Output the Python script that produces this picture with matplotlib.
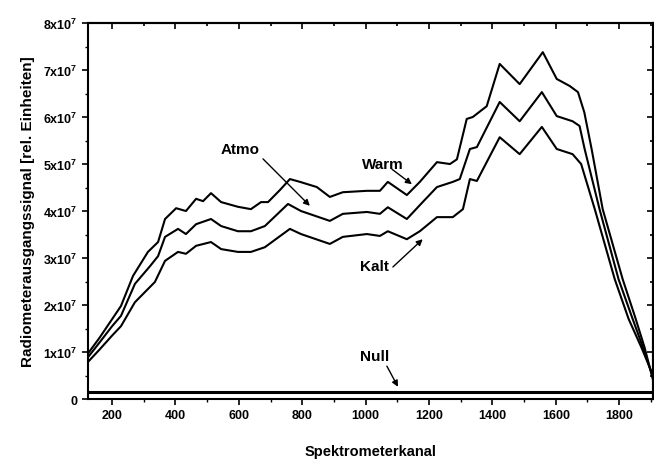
import matplotlib
matplotlib.use("Agg")
import matplotlib.pyplot as plt
from matplotlib.ticker import MultipleLocator, FuncFormatter

plt.rcParams['font.family'] = ['Liberation Sans Narrow', 'Liberation Sans', 'DejaVu Sans']
plt.rcParams['font.weight'] = 'bold'
plt.rcParams['mathtext.default'] = 'regular'

SCALE = 1e7

# Warm curve (values in units of 1e7)
warm_x = [124, 160, 200, 228, 266, 313, 345, 367, 402, 433, 465, 487, 512, 544, 597, 638,
          670, 692, 730, 761, 793, 846, 887, 928, 1004, 1045, 1070, 1130, 1171, 1225, 1266,
          1288, 1319, 1338, 1382, 1423, 1486, 1559, 1603, 1644, 1670, 1690, 1713, 1748,
          1811, 1850, 1880, 1907]
warm_y = [0.97, 1.30, 1.70, 1.98, 2.62, 3.13, 3.34, 3.83, 4.06, 4.00, 4.26, 4.21, 4.38, 4.19,
          4.09, 4.04, 4.19, 4.19, 4.45, 4.68, 4.62, 4.51, 4.30, 4.40, 4.43, 4.43, 4.62, 4.34,
          4.62, 5.04, 5.00, 5.10, 5.96, 6.00, 6.23, 7.13, 6.70, 7.38, 6.81, 6.66, 6.53, 6.10,
          5.32, 4.04, 2.55, 1.75, 1.10, 0.40]

# Atmo curve
atmo_x = [124, 160, 200, 228, 272, 320, 345, 367, 408, 433, 465, 512, 544, 597, 638, 682,
          755, 796, 887, 928, 1004, 1045, 1070, 1130, 1180, 1225, 1275, 1297, 1329, 1351,
          1423, 1486, 1556, 1603, 1653, 1675, 1691, 1738, 1798, 1840, 1875, 1907]
atmo_y = [0.89, 1.20, 1.55, 1.77, 2.45, 2.83, 3.04, 3.45, 3.62, 3.51, 3.72, 3.83, 3.68, 3.57,
          3.57, 3.68, 4.15, 4.00, 3.79, 3.94, 3.98, 3.94, 4.08, 3.83, 4.19, 4.51, 4.62, 4.68,
          5.32, 5.36, 6.32, 5.91, 6.53, 6.02, 5.91, 5.81, 5.32, 4.04, 2.55, 1.75, 1.10, 0.45]

# Kalt curve
kalt_x = [124, 160, 200, 228, 272, 335, 367, 408, 433, 465, 512, 544, 597, 638, 682, 761,
          796, 887, 928, 1004, 1045, 1070, 1130, 1171, 1225, 1275, 1307, 1329, 1351, 1423,
          1486, 1556, 1603, 1653, 1680, 1723, 1786, 1830, 1870, 1907]
kalt_y = [0.79, 1.05, 1.35, 1.55, 2.06, 2.49, 2.94, 3.13, 3.09, 3.26, 3.34, 3.19, 3.13, 3.13,
          3.23, 3.62, 3.51, 3.30, 3.45, 3.51, 3.47, 3.57, 3.40, 3.57, 3.87, 3.87, 4.04, 4.68,
          4.64, 5.57, 5.21, 5.79, 5.32, 5.21, 5.00, 4.04, 2.55, 1.70, 1.10, 0.50]

# Null line
null_x = [124, 1907]
null_y = [0.15, 0.15]

# labels: (text, text position, arrow tail, arrow head)
labels = [
    ("Atmo", (604, 5.32), (676, 5.11), (824, 4.11)),
    ("Warm", (1054, 5.00), (1083, 4.89), (1146, 4.57)),
    ("Kalt", (1029, 2.83), (1086, 2.81), (1180, 3.40)),
    ("Null", (1029, 0.91), (1067, 0.70), (1102, 0.26)),
]

fig = plt.figure(figsize=(6.54, 4.64), dpi=100)
ax = fig.add_axes([0.1346, 0.1379, 0.864, 0.8103])

for xs, ys in [(warm_x, warm_y), (atmo_x, atmo_y), (kalt_x, kalt_y)]:
    ax.plot(xs, [v * SCALE for v in ys], color='k', lw=1.5)
ax.plot(null_x, [v * SCALE for v in null_y], color='k', lw=2.2)

for txt, tpos, tail, head in labels:
    ax.text(tpos[0], tpos[1] * SCALE, txt, ha='center', va='center', fontsize=11,
            fontweight='bold')
    ax.annotate('', xy=(head[0], head[1] * SCALE), xytext=(tail[0], tail[1] * SCALE),
                arrowprops=dict(arrowstyle='-|>', color='k', lw=1.0, mutation_scale=9,
                                shrinkA=0, shrinkB=0))

ax.set_xlim(124, 1907)
ax.set_ylim(0, 8e7)

ax.xaxis.set_major_locator(MultipleLocator(200))
ax.xaxis.set_minor_locator(MultipleLocator(100))
ax.yaxis.set_major_locator(MultipleLocator(1e7))
ax.yaxis.set_minor_locator(MultipleLocator(0.5e7))


def ylab(v, pos):
    n = int(round(v / SCALE))
    return "0" if n == 0 else f"{n}x10$^7$"


ax.yaxis.set_major_formatter(FuncFormatter(ylab))
ax.tick_params(which='major', direction='out', length=4, width=1.2, labelsize=9)
ax.tick_params(which='minor', direction='out', length=2, width=1)
for lab in ax.get_xticklabels() + ax.get_yticklabels():
    lab.set_fontweight('bold')

top = ax.secondary_xaxis('top')
top.xaxis.set_major_locator(MultipleLocator(200))
top.xaxis.set_minor_locator(MultipleLocator(100))
top.tick_params(which='both', direction='in', labeltop=False, width=1.2)
top.tick_params(which='major', length=4)
top.tick_params(which='minor', length=2)
right = ax.secondary_yaxis('right')
right.yaxis.set_major_locator(MultipleLocator(1e7))
right.yaxis.set_minor_locator(MultipleLocator(0.5e7))
right.tick_params(which='both', direction='in', labelright=False, width=1.2)
right.tick_params(which='major', length=4)
right.tick_params(which='minor', length=2)

for sp in ax.spines.values():
    sp.set_linewidth(1.5)
for sp in list(top.spines.values()) + list(right.spines.values()):
    sp.set_linewidth(1.5)

ax.set_xlabel("Spektrometerkanal", fontsize=10.5, fontweight='bold', labelpad=16)
ax.set_ylabel("Radiometerausgangssignal [rel. Einheiten]", fontsize=11, fontweight='bold',
              labelpad=6)

fig.savefig("out.png", dpi=100)
